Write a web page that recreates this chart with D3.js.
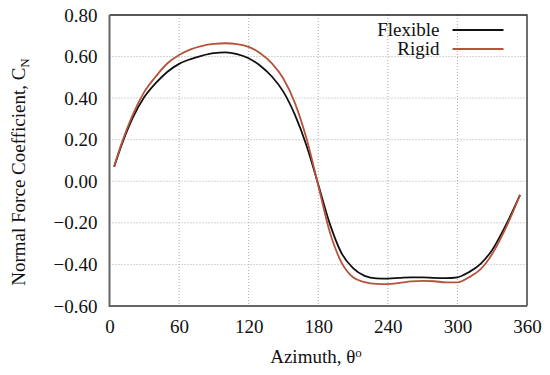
<!DOCTYPE html>
<html>
<head>
<meta charset="utf-8">
<script src="https://cdn.jsdelivr.net/npm/d3@7"></script>
</head>
<body style="margin:0; background:#fff">
<div id="chart"></div>
<script>
// azimuth angles (deg)
var theta = [4, 10, 20, 30, 40, 50, 60, 70, 80, 90, 100, 110, 120, 130, 140, 150, 160, 170, 180,
             190, 200, 210, 220, 230, 240, 250, 260, 270, 280, 290, 300, 310, 320, 330, 340, 350, 354];

var flexible = [0.07, 0.168, 0.305, 0.405, 0.473, 0.527, 0.565, 0.588, 0.605, 0.617, 0.620, 0.612, 0.592,
                0.556, 0.504, 0.430, 0.318, 0.170, -0.015, -0.205, -0.345, -0.418, -0.455, -0.467, -0.468,
                -0.465, -0.462, -0.462, -0.465, -0.466, -0.462, -0.437, -0.397, -0.330, -0.230, -0.115, -0.065];

var rigid = [0.07, 0.175, 0.32, 0.43, 0.505, 0.568, 0.608, 0.635, 0.652, 0.661, 0.664, 0.660, 0.647,
             0.616, 0.567, 0.493, 0.375, 0.203, -0.02, -0.245, -0.39, -0.462, -0.485, -0.494, -0.495,
             -0.489, -0.482, -0.479, -0.481, -0.486, -0.486, -0.462, -0.423, -0.350, -0.245, -0.12, -0.065];

var xTicks = [0, 60, 120, 180, 240, 300, 360];
var yTicks = [-0.6, -0.4, -0.2, 0, 0.2, 0.4, 0.6, 0.8];

var seriesNames = ["Flexible", "Rigid"];
var seriesColors = ["#111111", "#b5533c"];

var FONT = "Liberation Serif";

var svgWidth = 550;
var svgHeight = 375;
var margin = { top: 15, right: 23, bottom: 69, left: 109.5 };
var width = svgWidth - margin.left - margin.right;
var height = svgHeight - margin.top - margin.bottom;

var svg = d3.select("#chart")
    .append("svg")
    .attr("width", svgWidth)
    .attr("height", svgHeight)
    .attr("font-family", FONT);

var chartGroup = svg.append("g")
    .attr("transform", `translate(${margin.left}, ${margin.top})`);

var x = d3.scaleLinear().domain([0, 360]).range([0, width]);
var y = d3.scaleLinear().domain([-0.6, 0.8]).range([height, 0]);

// grid lines (dotted)
chartGroup.append("g")
    .selectAll("line")
    .data(xTicks.slice(1, -1))
    .enter()
    .append("line")
    .attr("x1", d => x(d)).attr("x2", d => x(d))
    .attr("y1", 0).attr("y2", height)
    .attr("stroke", "#aaa")
    .attr("stroke-dasharray", "1,2");

chartGroup.append("g")
    .selectAll("line")
    .data(yTicks.slice(1, -1))
    .enter()
    .append("line")
    .attr("y1", d => y(d)).attr("y2", d => y(d))
    .attr("x1", 0).attr("x2", width)
    .attr("stroke", "#aaa")
    .attr("stroke-dasharray", "1,2");

// axes (labels only)
var bottomAxis = d3.axisBottom(x).tickValues(xTicks).tickSize(0).tickPadding(14);
var leftAxis = d3.axisLeft(y).tickValues(yTicks).tickSize(0).tickPadding(12).tickFormat(d3.format(".2f"));

var gx = chartGroup.append("g")
    .attr("transform", `translate(0, ${height})`)
    .call(bottomAxis);
var gy = chartGroup.append("g").call(leftAxis);

[gx, gy].forEach(g => {
    g.attr("font-family", FONT).attr("font-size", 19);
    g.select(".domain").remove();
    g.selectAll("text")
        .attr("font-family", FONT)
        .attr("font-size", 19)
        .attr("fill", "#111");
});

// curves
var line = d3.line()
    .x(d => x(d[0]))
    .y(d => y(d[1]))
    .curve(d3.curveMonotoneX);

[flexible, rigid].forEach((vals, i) => {
    chartGroup.append("path")
        .datum(theta.map((t, j) => [t, vals[j]]))
        .attr("d", line)
        .attr("fill", "none")
        .attr("stroke", seriesColors[i])
        .attr("stroke-width", 1.8);
});

// frame: top/right dark, left/bottom grey
chartGroup.append("path")
    .attr("d", `M0,0H${width}V${height}`)
    .attr("fill", "none")
    .attr("stroke", "#222")
    .attr("stroke-width", 1.3);
chartGroup.append("path")
    .attr("d", `M0,0V${height}H${width}`)
    .attr("fill", "none")
    .attr("stroke", "#666")
    .attr("stroke-width", 2);

// legend
var legend = chartGroup.append("g");
seriesNames.forEach((name, i) => {
    var ly = 15 + i * 19;
    legend.append("text")
        .attr("x", 330)
        .attr("y", ly)
        .attr("dy", "0.33em")
        .attr("text-anchor", "end")
        .attr("font-family", FONT)
        .attr("font-size", 19)
        .attr("fill", "#111")
        .text(name);
    legend.append("line")
        .attr("x1", 343).attr("x2", 394)
        .attr("y1", ly).attr("y2", ly)
        .attr("stroke", seriesColors[i])
        .attr("stroke-width", 1.8);
});

// x-axis title
var xt = svg.append("text")
    .attr("x", 316)
    .attr("y", 363)
    .attr("text-anchor", "middle")
    .attr("font-family", FONT)
    .attr("font-size", 19)
    .attr("fill", "#111");
xt.append("tspan").text("Azimuth, θ");
xt.append("tspan").attr("dy", "-0.45em").attr("font-size", 13).text("o");

// y-axis title
var yt = svg.append("text")
    .attr("transform", "translate(25, 172) rotate(-90)")
    .attr("text-anchor", "middle")
    .attr("font-family", FONT)
    .attr("font-size", 19)
    .attr("fill", "#111");
yt.append("tspan").text("Normal Force Coefficient, C");
yt.append("tspan").attr("dy", "0.3em").attr("font-size", 13).text("N");
</script>
</body>
</html>
